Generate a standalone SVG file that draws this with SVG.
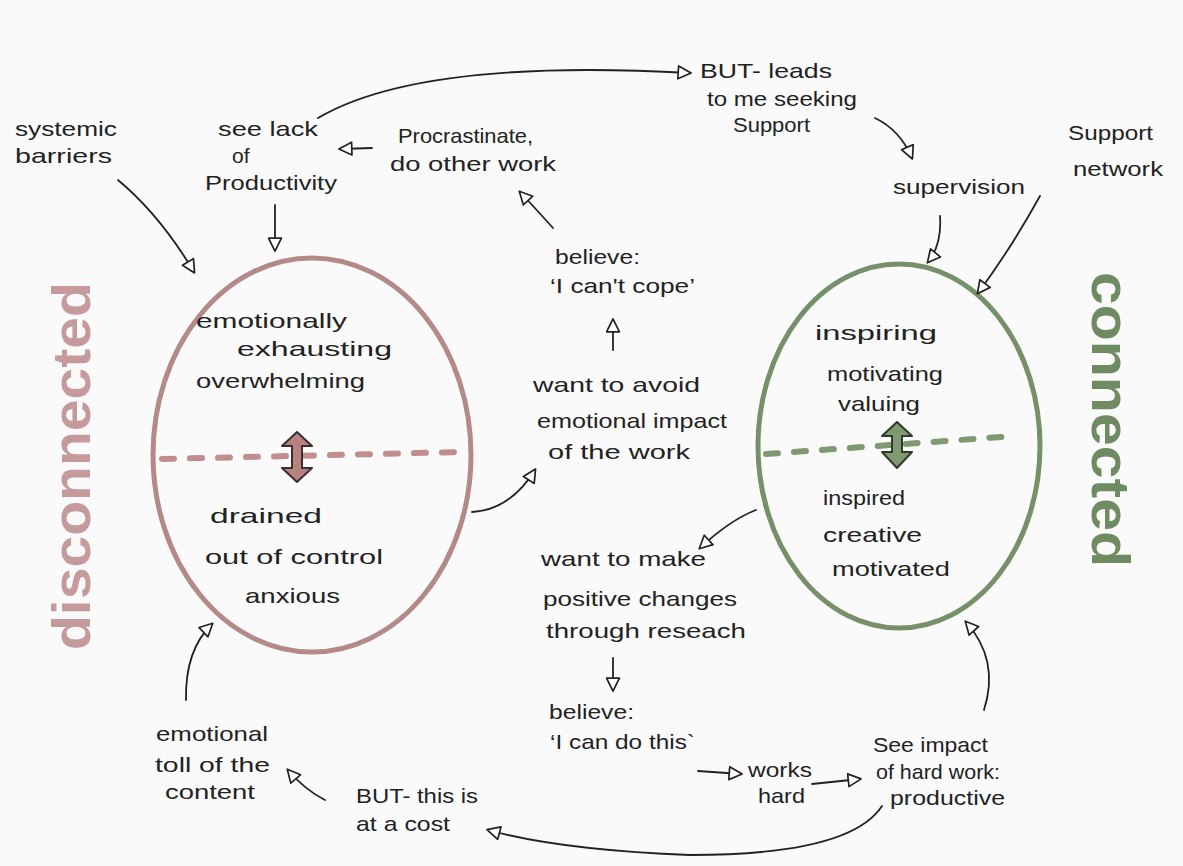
<svg xmlns="http://www.w3.org/2000/svg" width="1183" height="866" viewBox="0 0 1183 866">
<defs>
<marker id="ah" viewBox="0 0 14 14" refX="12" refY="7" markerWidth="15" markerHeight="15" markerUnits="userSpaceOnUse" orient="auto">
<path d="M1,1 L13,7 L1,13 Z" fill="#fff" stroke="#222" stroke-width="1.6" stroke-linejoin="round"/>
</marker>
</defs>
<style>
text{font-family:"Liberation Sans",Arial,sans-serif;font-size:21px;fill:#222}
.c{fill:none;stroke:#222;stroke-width:1.8;stroke-linecap:round;marker-end:url(#ah)}
.big{font-family:"Liberation Sans",Arial,sans-serif;font-size:54px;font-weight:bold}
</style>
<rect width="1183" height="866" fill="#fafafa"/>

<g id="disconnected-label"><text class="big" transform="translate(90,650) rotate(-90)" style="fill:#c49a9b" textLength="368" lengthAdjust="spacingAndGlyphs">disconnected</text></g>
<g id="connected-label"><text class="big" transform="translate(1092,272) rotate(90)" style="fill:#6f8b62" textLength="295" lengthAdjust="spacingAndGlyphs">connected</text></g>

<g id="disconnected-egg">
<ellipse cx="312" cy="455" rx="159" ry="197" fill="none" stroke="#b48a88" stroke-width="5"/>
<line x1="162" y1="459" x2="462" y2="452" stroke="#c08f8d" stroke-width="6" stroke-linecap="round" stroke-dasharray="12 16"/>
<path d="M297,432 L312,446 L302,446 L302,468 L312,468 L297,482 L282,468 L292,468 L292,446 L282,446 Z" fill="#b88282" stroke="#3a3030" stroke-width="2" stroke-linejoin="round"/>
<text x="196" y="328" textLength="151" lengthAdjust="spacingAndGlyphs">emotionally</text>
<text x="237" y="356" textLength="155" lengthAdjust="spacingAndGlyphs">exhausting</text>
<text x="196" y="388" textLength="169" lengthAdjust="spacingAndGlyphs">overwhelming</text>
<text x="210" y="523" textLength="112" lengthAdjust="spacingAndGlyphs">drained</text>
<text x="205" y="564" textLength="178" lengthAdjust="spacingAndGlyphs">out of control</text>
<text x="245" y="603" textLength="95" lengthAdjust="spacingAndGlyphs">anxious</text>
</g>

<g id="connected-egg">
<ellipse cx="899" cy="446" rx="141" ry="182" fill="none" stroke="#76906a" stroke-width="5"/>
<line x1="766" y1="454" x2="1015" y2="436" stroke="#7f9a72" stroke-width="6" stroke-linecap="round" stroke-dasharray="12 16"/>
<path d="M897,422 L912,436 L902,436 L902,452 L912,452 L897,468 L882,452 L892,452 L892,436 L882,436 Z" fill="#7f9a72" stroke="#2e3a2a" stroke-width="2" stroke-linejoin="round"/>
<text x="815" y="340" textLength="122" lengthAdjust="spacingAndGlyphs">inspiring</text>
<text x="827" y="381" textLength="116" lengthAdjust="spacingAndGlyphs">motivating</text>
<text x="838" y="411" textLength="82" lengthAdjust="spacingAndGlyphs">valuing</text>
<text x="823" y="505" textLength="82" lengthAdjust="spacingAndGlyphs">inspired</text>
<text x="823" y="542" textLength="99" lengthAdjust="spacingAndGlyphs">creative</text>
<text x="832" y="576" textLength="118" lengthAdjust="spacingAndGlyphs">motivated</text>
</g>

<g id="systemic-barriers"><text x="15" y="136" textLength="102" lengthAdjust="spacingAndGlyphs">systemic</text><text x="15" y="163" textLength="97" lengthAdjust="spacingAndGlyphs">barriers</text></g>
<g id="see-lack"><text x="218" y="136" textLength="100" lengthAdjust="spacingAndGlyphs">see lack</text><text x="232" y="163">of</text><text x="205" y="190" textLength="132" lengthAdjust="spacingAndGlyphs">Productivity</text></g>
<g id="procrastinate"><text x="398" y="143" textLength="135" lengthAdjust="spacingAndGlyphs">Procrastinate,</text><text x="390" y="171" textLength="166" lengthAdjust="spacingAndGlyphs">do other work</text></g>
<g id="but-leads"><text x="700" y="78" textLength="132" lengthAdjust="spacingAndGlyphs">BUT- leads</text><text x="707" y="106" textLength="150" lengthAdjust="spacingAndGlyphs">to me seeking</text><text x="733" y="132" textLength="77" lengthAdjust="spacingAndGlyphs">Support</text></g>
<g id="supervision"><text x="893" y="194" textLength="132" lengthAdjust="spacingAndGlyphs">supervision</text></g>
<g id="support-network"><text x="1068" y="140" textLength="85" lengthAdjust="spacingAndGlyphs">Support</text><text x="1073" y="176" textLength="90" lengthAdjust="spacingAndGlyphs">network</text></g>
<g id="believe-cope"><text x="555" y="264" textLength="85" lengthAdjust="spacingAndGlyphs">believe:</text><text x="550" y="293" textLength="145" lengthAdjust="spacingAndGlyphs">‘I can't cope’</text></g>
<g id="want-avoid"><text x="533" y="392" textLength="167" lengthAdjust="spacingAndGlyphs">want to avoid</text><text x="537" y="428" textLength="190" lengthAdjust="spacingAndGlyphs">emotional impact</text><text x="548" y="459" textLength="142" lengthAdjust="spacingAndGlyphs">of the work</text></g>
<g id="want-make"><text x="541" y="566" textLength="165" lengthAdjust="spacingAndGlyphs">want to make</text><text x="543" y="606" textLength="194" lengthAdjust="spacingAndGlyphs">positive changes</text><text x="546" y="638" textLength="200" lengthAdjust="spacingAndGlyphs">through reseach</text></g>
<g id="believe-do"><text x="549" y="719" textLength="85" lengthAdjust="spacingAndGlyphs">believe:</text><text x="550" y="749" textLength="145" lengthAdjust="spacingAndGlyphs">‘I can do this`</text></g>
<g id="works-hard"><text x="748" y="777" textLength="64" lengthAdjust="spacingAndGlyphs">works</text><text x="758" y="803" textLength="47" lengthAdjust="spacingAndGlyphs">hard</text></g>
<g id="see-impact"><text x="873" y="752" textLength="115" lengthAdjust="spacingAndGlyphs">See impact</text><text x="876" y="779" textLength="124" lengthAdjust="spacingAndGlyphs">of hard work:</text><text x="890" y="805" textLength="115" lengthAdjust="spacingAndGlyphs">productive</text></g>
<g id="emotional-toll"><text x="156" y="741" textLength="112" lengthAdjust="spacingAndGlyphs">emotional</text><text x="155" y="772" textLength="115" lengthAdjust="spacingAndGlyphs">toll of the</text><text x="165" y="799" textLength="90" lengthAdjust="spacingAndGlyphs">content</text></g>
<g id="but-cost"><text x="356" y="803" textLength="122" lengthAdjust="spacingAndGlyphs">BUT- this is</text><text x="356" y="831" textLength="94" lengthAdjust="spacingAndGlyphs">at a cost</text></g>

<g id="connectors">
<path class="c" d="M118,180 Q160,215 194,272"/>
<path class="c" d="M275,205 L275,250"/>
<path class="c" d="M372,148 L340,149"/>
<path class="c" d="M318,118 Q420,58 690,73"/>
<path class="c" d="M875,118 Q900,130 912,158"/>
<path class="c" d="M940,216 Q942,245 928,262"/>
<path class="c" d="M1040,196 Q1010,250 978,293"/>
<path class="c" d="M553,228 Q535,208 520,192"/>
<path class="c" d="M613,350 L613,320"/>
<path class="c" d="M472,512 Q510,510 535,470"/>
<path class="c" d="M756,510 Q730,520 700,548"/>
<path class="c" d="M613,658 L613,690"/>
<path class="c" d="M698,771 L741,774"/>
<path class="c" d="M812,784 L860,779"/>
<path class="c" d="M984,710 Q1000,660 966,622"/>
<path class="c" d="M882,806 Q850,855 690,855 Q560,850 488,830"/>
<path class="c" d="M325,800 Q305,790 288,770"/>
<path class="c" d="M186,700 Q185,650 212,624"/>
</g>
</svg>
